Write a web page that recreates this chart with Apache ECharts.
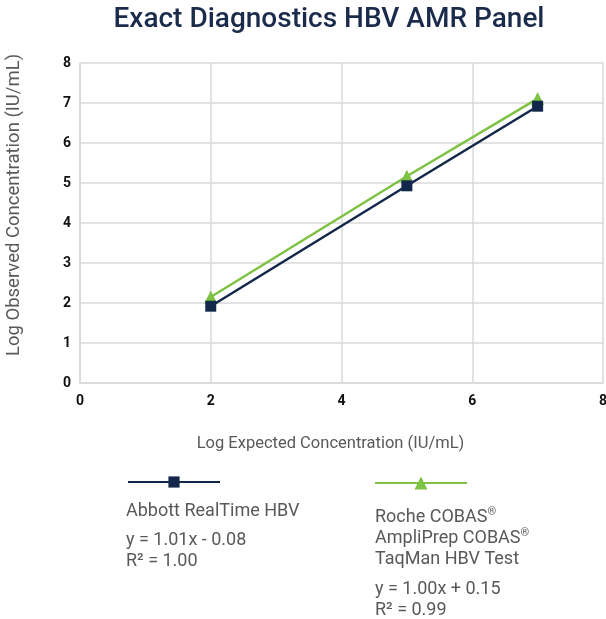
<!DOCTYPE html>
<html>
<head>
<meta charset="utf-8">
<script src="https://cdn.jsdelivr.net/npm/echarts@6/dist/echarts.min.js"></script>
<style>
  html, body { margin: 0; padding: 0; background: #fff; }
  #chart { width: 606px; height: 619px; }
</style>
</head>
<body>
<div id="chart"></div>
<script>
// Chart values
const expected = [2, 5, 7]
const abbottObserved = [1.92, 4.93, 6.92]
const rocheObserved = [2.15, 5.17, 7.11]
const seriesNames = ['Abbott RealTime HBV', 'Roche COBAS® AmpliPrep COBAS® TaqMan HBV Test']
const abbottLabel = ['{t|Abbott RealTime HBV}']
const abbottFit = ['{t|y = 1.01x - 0.08}', '{t|R² = 1.00}']
const rocheLabel = ['{t|Roche COBAS}{s|®}', '{t|AmpliPrep COBAS}{s|®}', '{t|TaqMan HBV Test}']
const rocheFit = ['{t|y = 1.00x + 0.15}', '{t|R² = 0.99}']

const navy = '#13274a'
const green = '#7dc242'
const gridColor = '#d9d9d9'
const textGray = '#595959'
const font = 'Roboto, "Noto Sans", sans-serif'

const chart = echarts.init(document.getElementById('chart'))

const pairs = (xs, ys) => xs.map((x, i) => [x, ys[i]])

// Legend captions are plain text blocks under each legend icon
const captionText = (lines, left, top) => ({
  type: 'text',
  left: left,
  top: top,
  style: {
    text: lines.join('\n'),
    rich: {
      t: { fill: textGray, fontSize: 18, fontFamily: font, lineHeight: 21 },
      s: { fill: textGray, fontSize: 11, fontFamily: font, lineHeight: 21, verticalAlign: 'top' },
    },
  },
})

const axisBase = {
  type: 'value',
  min: 0,
  max: 8,
  axisLabel: { color: '#111', fontSize: 14, fontWeight: 'bold', fontFamily: font },
  axisLine: { show: true, lineStyle: { color: gridColor, width: 1.5 } },
  axisTick: { show: false },
  splitLine: { show: true, lineStyle: { color: gridColor, width: 1.5 } },
  nameLocation: 'middle',
  nameTextStyle: { color: textGray, fontSize: 16.5, fontFamily: font },
}

chart.setOption({
  backgroundColor: '#fff',
  animation: false,
  title: {
    text: 'Exact Diagnostics HBV AMR Panel',
    left: 324,
    textAlign: 'center',
    top: 1,
    textStyle: { color: '#1a2b4c', fontSize: 28, fontWeight: 500, fontFamily: font },
  },
  grid: { left: 80, right: 3, top: 63, bottom: 236, outerBoundsMode: 'none', containLabel: false },
  xAxis: {
    ...axisBase,
    interval: 2,
    name: 'Log Expected Concentration (IU/mL)',
    nameGap: 52,
    nameTextStyle: { ...axisBase.nameTextStyle, padding: [0, 22, 0, 0] },
    axisLabel: { ...axisBase.axisLabel, margin: 11 },
  },
  yAxis: {
    ...axisBase,
    interval: 1,
    name: 'Log Observed Concentration (IU/mL)',
    nameGap: 56,
    nameTextStyle: { ...axisBase.nameTextStyle, fontSize: 18.5, padding: [0, 0, 0, 36] },
    axisLabel: { ...axisBase.axisLabel, margin: 9 },
  },
  legend: [
    {
      data: [seriesNames[0]],
      left: 122,
      top: 470,
      itemWidth: 92,
      itemHeight: 14,
      formatter: () => '',
      selectedMode: false,
    },
    {
      data: [seriesNames[1]],
      left: 369,
      top: 470,
      itemWidth: 92,
      itemHeight: 16,
      formatter: () => '',
      selectedMode: false,
    },
  ],
  graphic: [
    captionText(abbottLabel, 126, 502),
    captionText(abbottFit, 126, 531),
    captionText(rocheLabel, 375, 507),
    captionText(rocheFit, 375, 580),
  ],
  series: [
    {
      name: seriesNames[0],
      type: 'line',
      data: pairs(expected, abbottObserved),
      symbol: 'rect',
      symbolSize: 11,
      lineStyle: { color: navy, width: 2.5 },
      itemStyle: { color: navy },
      z: 3,
    },
    {
      name: seriesNames[1],
      type: 'line',
      data: pairs(expected, rocheObserved),
      symbol: 'triangle',
      symbolSize: 13,
      lineStyle: { color: green, width: 2.5 },
      itemStyle: { color: green },
      z: 2,
    },
  ],
})
</script>
</body>
</html>
